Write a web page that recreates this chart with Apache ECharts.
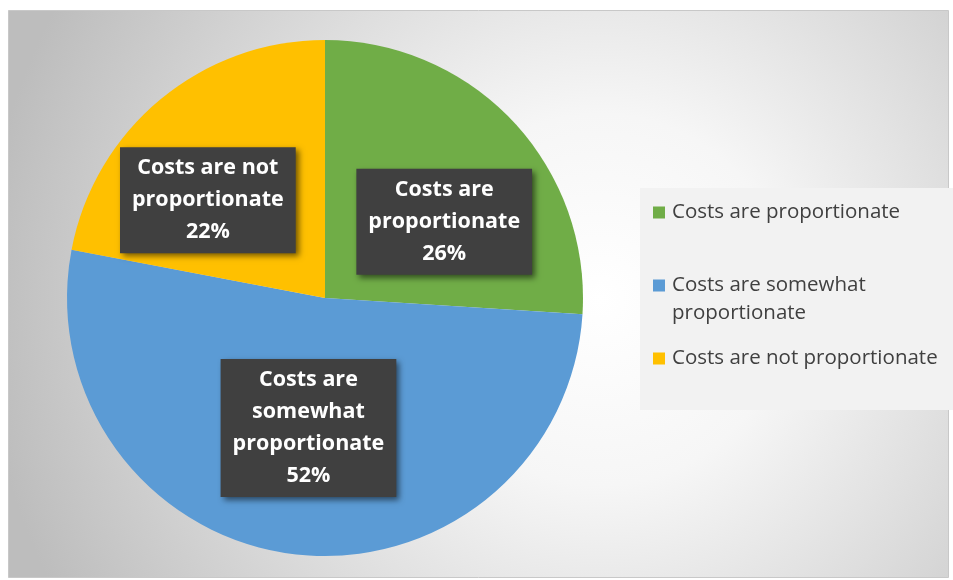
<!DOCTYPE html>
<html><head><meta charset="utf-8">
<script src="https://cdn.jsdelivr.net/npm/echarts@6/dist/echarts.min.js"></script>
<style>html,body{margin:0;padding:0;background:#fff}#c{width:953px;height:580px}</style>
</head><body><div id="c"></div>
<script>
const categories = ['Costs are proportionate', 'Costs are somewhat proportionate', 'Costs are not proportionate'];
const values = [26, 52, 22];
const labelLines = [['Costs are', 'proportionate'], ['Costs are', 'somewhat', 'proportionate'], ['Costs are not', 'proportionate']];
const colors = ['#70ad47', '#5b9bd5', '#ffc000'];
const labelOffsets = [[23, 14], [0, -1], [-33, 4]];

const chart = echarts.init(document.getElementById('c'));
const FONT = '"Open Sans"';
chart.setOption({
  animation: false,
  graphic: [
    { type: 'rect', z: -10, shape: { x: 8.5, y: 10.5, width: 940, height: 567 },
      style: { fill: { type: 'radial', x: 0.63, y: 0.51, r: 1.09,
        colorStops: [{ offset: 0, color: '#ffffff' }, { offset: 0.3, color: '#f6f6f6' }, { offset: 1, color: '#bdbdbd' }] },
        stroke: '#c8c8c8', lineWidth: 1 } },
    { type: 'rect', z: -5, shape: { x: 640, y: 188, width: 313, height: 222 },
      style: { fill: '#f2f2f2' } },
    { type: 'text', z: 10, x: 672, y: 313, style: { text: 'proportionate', font: '20.5px ' + FONT, fill: '#404040', verticalAlign: 'middle' } }
  ],
  legend: [0, 1, 2].map(i => ({
    left: 653, top: [202, 275, 348][i], orient: 'vertical', padding: 0,
    itemWidth: 12, itemHeight: 12, itemGap: 0, icon: 'rect',
    data: [categories[i]],
    formatter: i === 1 ? () => 'Costs are somewhat' : undefined,
    textStyle: { fontFamily: 'Open Sans', fontSize: 20.5, color: '#404040', padding: [0, 0, 0, 2] },
    selectedMode: false
  })),
  series: [{
    type: 'pie',
    center: [325, 298],
    radius: 258,
    startAngle: 90,
    clockwise: true,
    label: {
      show: true, position: 'inside',
      fontFamily: 'Open Sans', fontWeight: 'bold', fontSize: 21.5, lineHeight: 32,
      color: '#ffffff', backgroundColor: '#404040',
      padding: [5, 12, 5, 12],
      shadowColor: 'rgba(0,0,0,0.55)', shadowBlur: 6, shadowOffsetX: 3, shadowOffsetY: 3,
      textShadowColor: 'transparent'
    },
    labelLine: { show: false },
    emphasis: { disabled: true },
    data: categories.map((n, i) => ({
      name: n, value: values[i],
      itemStyle: { color: colors[i] },
      label: { formatter: labelLines[i].join('\n') + '\n' + values[i] + '%', offset: labelOffsets[i] }
    }))
  }]
});
</script></body></html>
